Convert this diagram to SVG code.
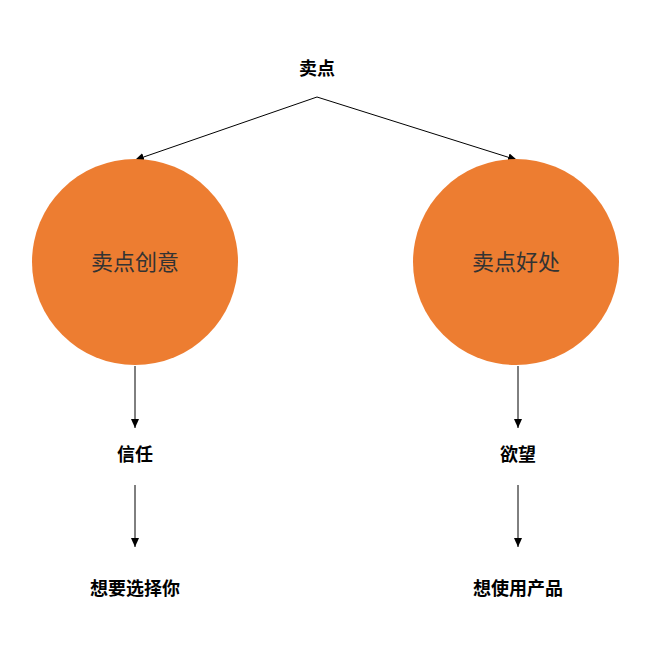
<svg xmlns="http://www.w3.org/2000/svg" width="650" height="650" viewBox="0 0 650 650">
<defs>
<marker id="a" markerWidth="10" markerHeight="10" refX="9" refY="5" orient="auto" markerUnits="userSpaceOnUse"><path d="M0,1 L9,5 L0,9 z" fill="#000"/></marker>
<style>
.c{fill:#ED7D31}
.t{font-family:"Noto Sans CJK SC",sans-serif;text-anchor:middle}
.b{font-weight:bold;font-size:18px}
.n{font-size:22px;fill:#333}
line{stroke:#000;stroke-width:1;marker-end:url(#a)}
</style>
</defs>
<rect width="650" height="650" fill="#fff"/>
<g id="connectors">
<line x1="317" y1="97" x2="135" y2="160"/>
<line x1="317" y1="97" x2="517" y2="160"/>
<line x1="135" y1="366" x2="135" y2="428"/>
<line x1="518" y1="366" x2="518" y2="428"/>
<line x1="135" y1="485" x2="135" y2="547"/>
<line x1="518" y1="485" x2="518" y2="547"/>
</g>
<g id="root"><text class="t b" x="317" y="75" font-size="22">卖点</text></g>
<g id="n1"><circle class="c" cx="135" cy="262" r="103"/><text class="t n" x="135" y="270">卖点创意</text></g>
<g id="n2"><circle class="c" cx="516" cy="262" r="103"/><text class="t n" x="516" y="270">卖点好处</text></g>
<g id="n3"><text class="t b" x="135" y="461">信任</text></g>
<g id="n4"><text class="t b" x="518" y="461">欲望</text></g>
<g id="n5"><text class="t b" x="135" y="595">想要选择你</text></g>
<g id="n6"><text class="t b" x="518" y="595">想使用产品</text></g>
</svg>
